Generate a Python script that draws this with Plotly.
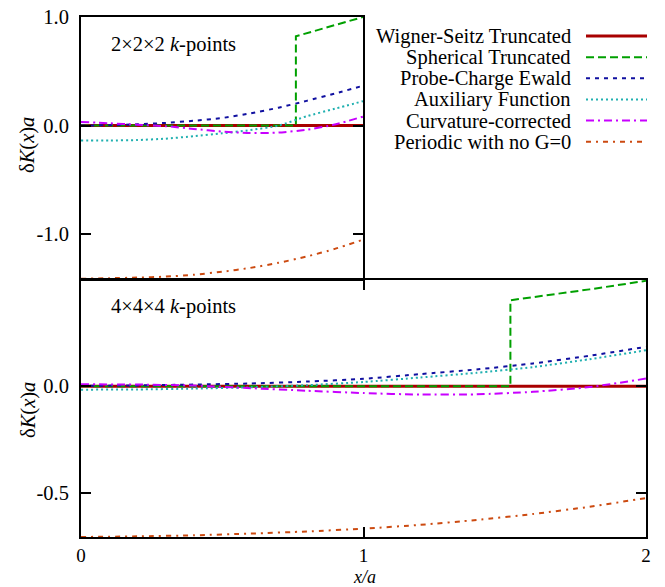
import plotly.graph_objects as go

# ---------------- data ----------------
series_names = ["Wigner-Seitz Truncated", "Spherical Truncated", "Probe-Charge Ewald",
                "Auxiliary Function", "Curvature-corrected", "Periodic with no G=0"]

# 2x2x2 k-points panel
x_top = [0.0, 0.1, 0.2, 0.3, 0.4, 0.5, 0.6, 0.7, 0.8, 0.9, 1.0]
ws_top = [0, 0, 0, 0, 0, 0, 0, 0, 0, 0, 0]
pce_top = [0.0, 0.004, 0.012, 0.025, 0.045, 0.07, 0.113, 0.165, 0.228, 0.295, 0.367]
aux_top = [-0.138, -0.137, -0.133, -0.12, -0.097, -0.071, -0.041, 0.0, 0.086, 0.155, 0.225]
curv_top = [0.034, 0.022, 0.008, -0.005, -0.03, -0.055, -0.068, -0.064, -0.038, 0.01, 0.083]
per_top = [-1.41, -1.405, -1.399, -1.39, -1.373, -1.345, -1.31, -1.263, -1.205, -1.135, -1.05]
x_sph_top = [0.0, 0.762, 0.762, 0.85, 0.9, 1.0]
sph_top = [0.0, 0.0, 0.822, 0.887, 0.925, 1.0]

# 4x4x4 k-points panel
x_bot = [0.0, 0.2, 0.4, 0.6, 0.8, 1.0, 1.2, 1.4, 1.6, 1.8, 2.0]
ws_bot = [0, 0, 0, 0, 0, 0, 0, 0, 0, 0, 0]
pce_bot = [0.002, 0.004, 0.008, 0.013, 0.022, 0.035, 0.057, 0.079, 0.107, 0.143, 0.185]
aux_bot = [-0.016, -0.015, -0.011, -0.005, 0.005, 0.02, 0.041, 0.063, 0.09, 0.127, 0.169]
curv_bot = [0.009, 0.008, 0.003, -0.009, -0.021, -0.032, -0.039, -0.038, -0.026, -0.004, 0.036]
per_bot = [-0.708, -0.705, -0.70, -0.692, -0.682, -0.669, -0.651, -0.628, -0.60, -0.566, -0.525]
x_sph_bot = [0.0, 1.52, 1.52, 1.6, 1.7, 1.8, 1.9, 2.0]
sph_bot = [0.0, 0.0, 0.404, 0.418, 0.436, 0.455, 0.475, 0.495]

top_yticks = [-1.0, 0.0, 1.0]
top_yticklabels = ["-1.0", "0.0", "1.0"]
bot_yticks = [-0.5, 0.0]
bot_yticklabels = ["-0.5", "0.0"]
bot_xticks = [0, 1, 2]
bot_xticklabels = ["0", "1", "2"]
panel_labels = ["2×2×2 <i>k</i>-points", "4×4×4 <i>k</i>-points"]

# ---------------- styles ----------------
colors = ["#a80000", "#00a000", "#1010a0", "#20b0b0", "#c800ff", "#cc4a10"]
dashes = ["solid", "8px,4px", "4px,5px", "2px,3px", "8px,4px,2px,4px", "5px,5px,2px,5px"]
widths = [3, 2, 2, 2, 2, 2]
FONT = "Liberation Serif, Times New Roman, serif"
FS = 20.5
W, H = 665, 587

def px_x(p):
    return p / W

def px_y(p):
    return 1 - p / H

fig = go.Figure()

top_sets = [(x_top, ws_top), (x_sph_top, sph_top), (x_top, pce_top),
            (x_top, aux_top), (x_top, curv_top), (x_top, per_top)]
bot_sets = [(x_bot, ws_bot), (x_sph_bot, sph_bot), (x_bot, pce_bot),
            (x_bot, aux_bot), (x_bot, curv_bot), (x_bot, per_bot)]

for i, (xx, yy) in enumerate(top_sets):
    fig.add_trace(go.Scatter(x=xx, y=yy, mode="lines", name=series_names[i],
                             xaxis="x", yaxis="y", showlegend=False,
                             line=dict(color=colors[i], dash=dashes[i], width=widths[i],
                                       shape="linear" if i == 1 else "spline", smoothing=0.6)))
for i, (xx, yy) in enumerate(bot_sets):
    fig.add_trace(go.Scatter(x=xx, y=yy, mode="lines", name=series_names[i],
                             xaxis="x2", yaxis="y2", showlegend=False,
                             line=dict(color=colors[i], dash=dashes[i], width=widths[i],
                                       shape="linear" if i == 1 else "spline", smoothing=0.6)))

axis_common = dict(showline=True, linecolor="black", linewidth=2, mirror="ticks",
                   ticks="inside", ticklen=10, tickwidth=2, tickcolor="black",
                   showgrid=False, zeroline=False, automargin=False)
tick_font = dict(family=FONT, size=FS, color="black")

fig.update_layout(
    template="none",
    width=W, height=H,
    margin=dict(l=0, r=0, t=0, b=0, pad=0),
    paper_bgcolor="white", plot_bgcolor="white",
    font=dict(family=FONT, size=FS, color="black"),
    xaxis=dict(domain=[px_x(81), px_x(363)], range=[0, 1], anchor="y",
               tickvals=[0, 1], showticklabels=False, tickfont=tick_font, **axis_common),
    yaxis=dict(domain=[px_y(279), px_y(17)], range=[-1.412, 1.0], anchor="x",
               tickvals=top_yticks, ticktext=top_yticklabels, ticklabelstandoff=6,
               tickfont=tick_font, **axis_common),
    xaxis2=dict(domain=[px_x(81), px_x(646)], range=[0, 2], anchor="y2",
                tickvals=bot_xticks, ticktext=bot_xticklabels, ticklabelstandoff=0,
                tickfont=dict(family=FONT, size=19, color="black"), **axis_common),
    yaxis2=dict(domain=[px_y(537), px_y(280)], range=[-0.708, 0.499], anchor="x2",
                tickvals=bot_yticks, ticktext=bot_yticklabels, ticklabelstandoff=6,
                tickfont=tick_font, **axis_common),
    showlegend=False,
)

ann = []
# panel labels
ann.append(dict(x=px_x(109), y=px_y(44), xref="paper", yref="paper", text=panel_labels[0],
                showarrow=False, xanchor="left", yanchor="middle", font=dict(family=FONT, size=FS)))
ann.append(dict(x=px_x(109), y=px_y(306), xref="paper", yref="paper", text=panel_labels[1],
                showarrow=False, xanchor="left", yanchor="middle", font=dict(family=FONT, size=FS)))
# axis titles
ytitle = "δ<i>K</i>(<i>x</i>)<i>a</i>"
ann.append(dict(x=px_x(28), y=px_y(145), xref="paper", yref="paper", text=ytitle, textangle=-90,
                showarrow=False, xanchor="center", yanchor="middle", font=dict(family=FONT, size=FS)))
ann.append(dict(x=px_x(28), y=px_y(410), xref="paper", yref="paper", text=ytitle, textangle=-90,
                showarrow=False, xanchor="center", yanchor="middle", font=dict(family=FONT, size=FS)))
ann.append(dict(x=px_x(364), y=px_y(576.5), xref="paper", yref="paper", text="<i>x/a</i>",
                showarrow=False, xanchor="center", yanchor="middle", borderpad=0,
                font=dict(family=FONT, size=18)))

# manual legend (text on left, line sample on right)
shapes = []
for i, name in enumerate(series_names):
    yc = 36 + 21.15 * i
    ann.append(dict(x=px_x(573), y=px_y(yc), xref="paper", yref="paper", text=name,
                    showarrow=False, xanchor="right", yanchor="middle",
                    font=dict(family=FONT, size=FS)))
    shapes.append(dict(type="line", xref="paper", yref="paper",
                       x0=px_x(586), x1=px_x(647), y0=px_y(yc), y1=px_y(yc),
                       line=dict(color=colors[i], dash=dashes[i], width=widths[i])))

fig.update_layout(annotations=ann, shapes=shapes)
fig.write_html("out.html", config={"displayModeBar": False},
               post_script="document.body.style.margin='0px';document.body.style.overflow='hidden';")
